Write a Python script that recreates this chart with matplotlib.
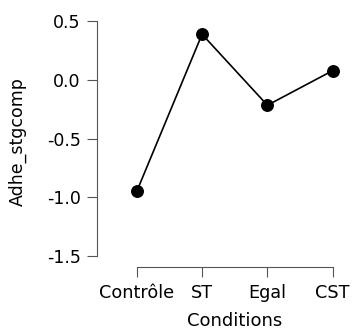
import matplotlib
matplotlib.use("Agg")
import matplotlib.pyplot as plt

conditions = ["Contrôle", "ST", "Egal", "CST"]
adhe_values = [-0.95, 0.39, -0.215, 0.08]
y_ticks = [-1.5, -1.0, -0.5, 0.0, 0.5]
y_tick_labels = ["-1.5", "-1.0", "-0.5", "0.0", "0.5"]

plt.rcParams['font.family'] = ['DejaVu Sans']

W, H = 353, 331
fig = plt.figure(figsize=(W / 100, H / 100), dpi=100)
left_px, right_px, top_px, bottom_px = 97, 345, 15, 267.3
ax = fig.add_axes([left_px / W, 1 - bottom_px / H,
                   (right_px - left_px) / W, (bottom_px - top_px) / H])

x = list(range(len(conditions)))
ax.plot(x, adhe_values, color='black', lw=1.2, marker='o', markersize=8.3,
        markerfacecolor='black', markeredgecolor='black', clip_on=False)

ax.set_xlim(-0.608, 3.188)
ax.set_ylim(-1.596, 0.554)

for s in ['top', 'right']:
    ax.spines[s].set_visible(False)
ax.spines['left'].set_bounds(-1.5, 0.5)
ax.spines['bottom'].set_bounds(0, 3)
for s in ['left', 'bottom']:
    ax.spines[s].set_color('#555555')
    ax.spines[s].set_linewidth(0.8)

ax.set_xticks(x)
ax.set_xticklabels(conditions, fontsize=12.7)
ax.set_yticks(y_ticks)
ax.set_yticklabels(y_tick_labels, fontsize=12.5)
ax.tick_params(axis='y', length=7.5, width=0.8, color='#555555', pad=4.3)
ax.tick_params(axis='x', length=7, width=0.8, color='#555555', pad=5)

ax.set_xlabel("Conditions", fontsize=13, va='center')
ax.xaxis.set_label_coords((235 - left_px) / (right_px - left_px),
                          (bottom_px - 321) / (bottom_px - top_px))
ax.set_ylabel("Adhe_stgcomp", fontsize=12.5, va='center')
ax.yaxis.set_label_coords((18 - left_px) / (right_px - left_px),
                          (bottom_px - 142) / (bottom_px - top_px))

fig.savefig("out.png", dpi=100)
